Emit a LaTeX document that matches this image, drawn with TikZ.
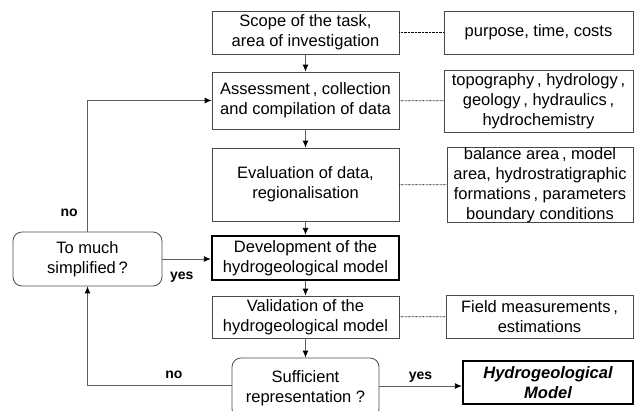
\documentclass[tikz,border=0pt]{standalone}
\usepackage{fontspec}
\setmainfont{Liberation Sans}
\usetikzlibrary{arrows.meta, positioning}
\definecolor{rim}{HTML}{4A4A4A}
\definecolor{wire}{HTML}{5E5E5E}
\tikzset{
  stepbox/.style={draw=rim, line width=0.8pt, align=center, inner sep=0pt,
    font=\fontsize{16.5}{20}\selectfont},
  askbox/.style={stepbox, rounded corners=9pt},
  keybox/.style={stepbox, draw=black, line width=2.4pt},
  flow/.style={wire, line width=0.9pt, -{Latex[black, length=7pt, width=6pt]}},
  link/.style={black, line width=0.8pt, dash pattern=on 0.7pt off 0.7pt},
  tag/.style={black, font=\bfseries\fontsize{14}{16}\selectfont}
}

\begin{document}
\begin{tikzpicture}[x=1pt, y=-1pt]
  \useasboundingbox (0,0) rectangle (634,410);
  % main column
  \node[stepbox, minimum width=187, minimum height=43] (scope) at (305.5,32.5)
     {Scope of the task,\\area of investigation};
  \node[stepbox, minimum width=187, minimum height=57] (assess) at (305.5,100.5)
     {Assessment\,, collection\\and compilation of data};
  \node[stepbox, minimum width=187, minimum height=73] (evalu) at (305.5,184.5)
     {Evaluation of data,\\regionalisation};
  \node[keybox, minimum width=187, minimum height=44] (devel) at (305.5,258)
     {Development of the\\hydrogeological model};
  \node[stepbox, minimum width=187, minimum height=42] (valid) at (305.5,317)
     {Validation of the\\hydrogeological model};
  \node[askbox, minimum width=147, minimum height=60] (suffic) at (305.5,388)
     {Sufficient\\representation ?};
  \node[askbox, minimum width=149, minimum height=54] (simpl) at (87.5,259)
     {To much\\simplified\,?};
  % side notes
  \node[stepbox, minimum width=189, minimum height=43] (purpose) at (538.5,32.5)
     {purpose, time, costs};
  \node[stepbox, minimum width=189, minimum height=62] (topo) at (538.5,101)
     {topography\,, hydrology\,,\\geology\,, hydraulics\,,\\hydrochemistry};
  \node[stepbox, minimum width=186, minimum height=72] (balance) at (540,185)
     {balance area\,, model\\area, hydrostratigraphic\\formations\,, parameters\\boundary conditions};
  \node[stepbox, minimum width=187, minimum height=43] (field) at (539.5,316.5)
     {Field measurements\,,\\estimations};
  \node[keybox, minimum width=170, minimum height=43, font=\bfseries\itshape\fontsize{16.5}{20}\selectfont]
     (hydro) at (548,382.5) {Hydrogeological\\Model};

  % flow downwards
  \draw[flow] (scope) -- (assess);
  \draw[flow] (assess) -- (evalu);
  \draw[flow] (evalu) -- (devel);
  \draw[flow] (devel) -- (valid);
  \draw[flow] (valid) -- (suffic);

  % feedback loops
  \draw[flow] (simpl.north) |- (assess.west) node[tag, pos=0.07, left=6pt] {no};
  \draw[flow] (simpl.east) -- (simpl.east -| devel.west)
     node[tag, pos=0.4, below=9pt] {yes};
  \draw[flow] (suffic.west |- 0,385) -| (simpl.south) node[tag, pos=0.2, above=3pt] {no};
  \draw[flow] (suffic.east |- 0,386) -- (hydro.west |- 0,386)
     node[tag, midway, above=0pt] {yes};

  % dotted links to the notes
  \draw[link] (scope) -- (purpose);
  \draw[link] (assess) -- (topo);
  \draw[link] (evalu) -- (balance);
  \draw[link] (valid) -- (field);
\end{tikzpicture}
\end{document}
